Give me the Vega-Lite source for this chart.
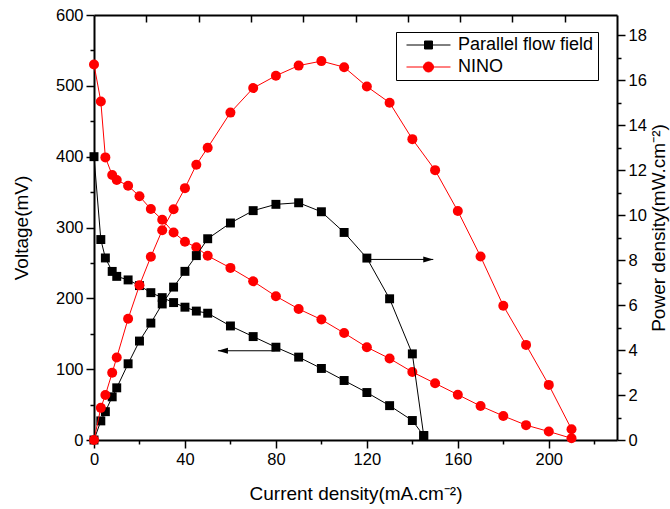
{
  "$schema": "https://vega.github.io/schema/vega-lite/v6.json",
  "width": 523,
  "height": 425,
  "autosize": {"type": "none"},
  "padding": {"left": 94, "top": 15, "right": 53, "bottom": 69},
  "background": "white",
  "config": {
    "view": {"stroke": null},
    "font": "Liberation Sans",
    "axis": {
      "domainColor": "black", "domainWidth": 2, "tickColor": "black", "tickWidth": 1.5,
      "labelColor": "black", "labelFontSize": 16.5, "labelFont": "Liberation Sans",
      "titleFont": "Liberation Sans", "titleFontSize": 19, "titleFontWeight": "normal", "titleColor": "black",
      "grid": false, "labelOverlap": false, "labelFlush": false, "labelPadding": 3
    },
    "legend": {
      "orient": "none", "legendX": 302, "legendY": 17, "strokeColor": "black",
      "padding": 4, "labelFontSize": 18, "labelFont": "Liberation Sans", "labelColor": "black",
      "labelLimit": 300, "symbolStrokeWidth": 1, "symbolSize": 225, "rowPadding": 4, "labelOffset": 40
    }
  },
  "datasets": {
    "pff": [
      {"I": 0, "V": 400, "P": 0},
      {"I": 3, "V": 283, "P": 0.85},
      {"I": 5, "V": 257, "P": 1.26},
      {"I": 8, "V": 238, "P": 1.92},
      {"I": 10, "V": 231, "P": 2.32},
      {"I": 15, "V": 226, "P": 3.39},
      {"I": 20, "V": 218, "P": 4.4},
      {"I": 25, "V": 208, "P": 5.2},
      {"I": 30, "V": 201, "P": 6.05},
      {"I": 35, "V": 194, "P": 6.8},
      {"I": 40, "V": 187.5, "P": 7.5},
      {"I": 45, "V": 182, "P": 8.2},
      {"I": 50, "V": 179, "P": 8.95},
      {"I": 60, "V": 161, "P": 9.65},
      {"I": 70, "V": 146, "P": 10.2},
      {"I": 80, "V": 131, "P": 10.48},
      {"I": 90, "V": 117, "P": 10.55},
      {"I": 100, "V": 101, "P": 10.15},
      {"I": 110, "V": 84, "P": 9.23},
      {"I": 120, "V": 67, "P": 8.09},
      {"I": 130, "V": 48.5, "P": 6.28},
      {"I": 140, "V": 27.5, "P": 3.83},
      {"I": 145, "V": 6, "P": 0.2}
    ],
    "nino": [
      {"I": 0, "V": 530, "P": 0},
      {"I": 3, "V": 478, "P": 1.43},
      {"I": 5, "V": 399, "P": 2.0},
      {"I": 8, "V": 374, "P": 2.99},
      {"I": 10, "V": 367, "P": 3.67},
      {"I": 15, "V": 359, "P": 5.39},
      {"I": 20, "V": 344, "P": 6.88},
      {"I": 25, "V": 326, "P": 8.15},
      {"I": 30, "V": 311, "P": 9.33},
      {"I": 35, "V": 293, "P": 10.26},
      {"I": 40, "V": 280, "P": 11.2},
      {"I": 45, "V": 272, "P": 12.24},
      {"I": 50, "V": 260, "P": 13.0},
      {"I": 60, "V": 243, "P": 14.56},
      {"I": 70, "V": 224, "P": 15.65},
      {"I": 80, "V": 203, "P": 16.2},
      {"I": 90, "V": 185, "P": 16.65},
      {"I": 100, "V": 170, "P": 16.85},
      {"I": 110, "V": 151, "P": 16.58},
      {"I": 120, "V": 131, "P": 15.72},
      {"I": 130, "V": 115, "P": 15.0},
      {"I": 140, "V": 96, "P": 13.38},
      {"I": 150, "V": 80, "P": 12.0},
      {"I": 160, "V": 64, "P": 10.18},
      {"I": 170, "V": 48, "P": 8.16},
      {"I": 180, "V": 34, "P": 5.97},
      {"I": 190, "V": 21, "P": 4.23},
      {"I": 200, "V": 12, "P": 2.45},
      {"I": 210, "V": 2.4, "P": 0.48}
    ],
    "arrowV": [{"x1": 54.5, "x2": 79.5, "V": 126}],
    "arrowP": [{"x1": 120.5, "x2": 149.2, "P": 8.03}],
    "legend": [{"series": "Parallel flow field"}, {"series": "NINO"}]
  },
  "layer": [
    {
      "encoding": {
        "x": {"field": "I", "type": "quantitative", "scale": {"domain": [0, 230], "nice": false, "zero": false},
              "axis": {"orient": "bottom", "title": "Current density(mA.cm⁻²)", "values": [0, 20, 40, 60, 80, 100, 120, 140, 160, 180, 200, 220],
                       "labelExpr": "datum.value % 40 === 0 ? datum.label : ''",
                       "tickSize": {"condition": {"test": "datum.value % 40 === 0", "value": 8}, "value": 4},
                       "titlePadding": 17}},
        "y": {"field": "V", "type": "quantitative", "scale": {"domain": [0, 600], "nice": false},
              "axis": {"orient": "left", "title": "Voltage(mV)", "values": [0, 50, 100, 150, 200, 250, 300, 350, 400, 450, 500, 550, 600],
                       "labelExpr": "datum.value % 100 === 0 ? datum.label : ''",
                       "tickSize": {"condition": {"test": "datum.value % 100 === 0", "value": 8}, "value": 4},
                       "titlePadding": 24}}
      },
      "layer": [
        {"data": {"name": "pff"}, "mark": {"type": "line", "color": "black", "strokeWidth": 1}},
        {"data": {"name": "pff"}, "mark": {"type": "point", "shape": "square", "filled": true, "color": "black", "size": 80, "opacity": 1}},
        {"data": {"name": "nino"}, "mark": {"type": "line", "color": "#ff0000", "strokeWidth": 1}},
        {"data": {"name": "nino"}, "mark": {"type": "point", "shape": "circle", "filled": true, "color": "#ff0000", "size": 100, "opacity": 1}},
        {"data": {"name": "arrowV"}, "mark": {"type": "rule", "color": "black", "strokeWidth": 1},
         "encoding": {"x": {"field": "x1", "type": "quantitative"}, "x2": {"field": "x2"}, "y": {"field": "V", "type": "quantitative"}}},
        {"data": {"name": "arrowV"}, "mark": {"type": "point", "shape": "M0,0L1,-0.3L1,0.3Z", "filled": true, "color": "black", "size": 400, "opacity": 1},
         "encoding": {"x": {"field": "x1", "type": "quantitative"}, "y": {"field": "V", "type": "quantitative"}}},
        {"data": {"name": "legend"}, "mark": {"type": "point", "clip": true, "opacity": 1, "strokeWidth": 1, "size": 225},
         "encoding": {
           "x": {"datum": -50}, "y": {"datum": -500},
           "shape": {"field": "series", "type": "nominal", "title": null,
                     "scale": {"domain": ["Parallel flow field", "NINO"], "range": ["M-0.333,0H5.533M2.067,-0.533H3.133V0.533H2.067Z", "M-0.333,0H5.533M3.267,0A0.667,0.667 0 1,1 1.933,0A0.667,0.667 0 1,1 3.267,0Z"]}},
           "fill": {"field": "series", "type": "nominal", "title": null, "scale": {"domain": ["Parallel flow field", "NINO"], "range": ["black", "#ff0000"]}},
           "stroke": {"field": "series", "type": "nominal", "title": null, "scale": {"domain": ["Parallel flow field", "NINO"], "range": ["black", "#ff0000"]}}
         }}
      ]
    },
    {
      "encoding": {
        "x": {"field": "I", "type": "quantitative", "scale": {"domain": [0, 230], "nice": false, "zero": false}, "axis": null},
        "y": {"field": "P", "type": "quantitative", "scale": {"domain": [0, 18.9], "nice": false},
              "axis": {"orient": "right", "title": "Power density(mW.cm⁻²)", "titleAngle": 270, "titleBaseline": "top", "values": [0, 1, 2, 3, 4, 5, 6, 7, 8, 9, 10, 11, 12, 13, 14, 15, 16, 17, 18],
                       "labelExpr": "datum.value % 2 === 0 ? datum.label : ''",
                       "tickSize": {"condition": {"test": "datum.value % 2 === 0", "value": 8}, "value": 4},
                       "titlePadding": 3}}
      },
      "layer": [
        {"data": {"name": "pff"}, "mark": {"type": "line", "color": "black", "strokeWidth": 1}},
        {"data": {"name": "pff"}, "mark": {"type": "point", "shape": "square", "filled": true, "color": "black", "size": 80, "opacity": 1}},
        {"data": {"name": "nino"}, "mark": {"type": "line", "color": "#ff0000", "strokeWidth": 1}},
        {"data": {"name": "nino"}, "mark": {"type": "point", "shape": "circle", "filled": true, "color": "#ff0000", "size": 100, "opacity": 1}},
        {"data": {"name": "arrowP"}, "mark": {"type": "rule", "color": "black", "strokeWidth": 1},
         "encoding": {"x": {"field": "x1", "type": "quantitative"}, "x2": {"field": "x2"}, "y": {"field": "P", "type": "quantitative"}}},
        {"data": {"name": "arrowP"}, "mark": {"type": "point", "shape": "M0,0L-1,-0.3L-1,0.3Z", "filled": true, "color": "black", "size": 400, "opacity": 1},
         "encoding": {"x": {"field": "x2", "type": "quantitative"}, "y": {"field": "P", "type": "quantitative"}}}
      ]
    },
    {
      "data": {"name": "pff"},
      "mark": {"type": "point", "opacity": 0},
      "encoding": {
        "x": {"field": "I", "type": "quantitative", "scale": {"domain": [0, 230], "nice": false, "zero": false},
              "axis": {"orient": "top", "title": null, "labels": false, "values": [23, 46, 69, 92, 115, 138, 161, 184, 207], "tickSize": -7}}
      }
    }
  ],
  "resolve": {"scale": {"y": "independent"}, "axis": {"x": "independent"}}
}
